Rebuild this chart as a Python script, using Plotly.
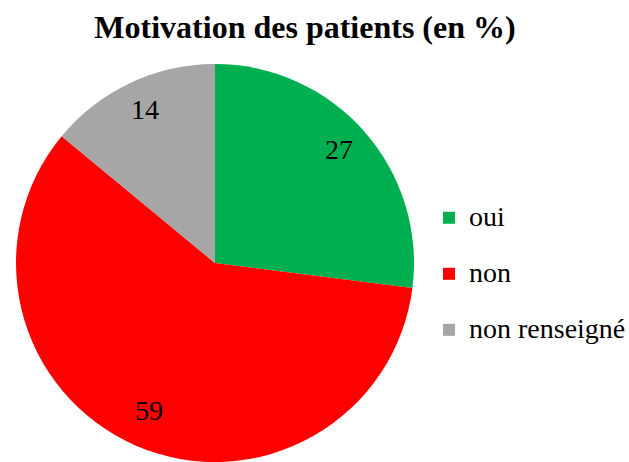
import math
import plotly.graph_objects as go

# Patient motivation shares (percent)
categories = ["oui", "non", "non renseigné"]
values = [27, 59, 14]
colors = ["#00B050", "#FF0000", "#A6A6A6"]

W, H = 629, 462
serif = "Liberation Serif, Times New Roman, Times, serif"

# Pie placement (paper fractions)
dom_x = [16 / W, 414 / W]
dom_y = [0, 398 / H]

# Legend entries: small base font sets the row pitch, span sets the glyph size,
# and a trailing blank line opens up the vertical spacing
legend_labels = [f"<span style='font-size:28px'>{c}</span><br> " for c in categories]

fig = go.Figure(
    go.Pie(
        labels=legend_labels,
        values=values,
        marker=dict(colors=colors, line=dict(width=0)),
        sort=False,
        direction="clockwise",
        rotation=0,
        textinfo="none",
        hoverinfo="skip",
        domain=dict(x=dom_x, y=dom_y),
    )
)

# Value labels placed along each slice bisector, at ~83% of the radius
cx = (dom_x[0] + dom_x[1]) / 2
cy = (dom_y[0] + dom_y[1]) / 2
radius_px = min((dom_x[1] - dom_x[0]) * W, (dom_y[1] - dom_y[0]) * H) / 2
total = sum(values)
cum = 0
for v in values:
    theta = 2 * math.pi * (cum + v / 2) / total
    cum += v
    rr = 0.83 * radius_px
    fig.add_annotation(
        x=cx + rr * math.sin(theta) / W,
        y=cy + rr * math.cos(theta) / H,
        xref="paper",
        yref="paper",
        text=str(v),
        showarrow=False,
        xanchor="center",
        yanchor="middle",
        yshift=4,
        font=dict(family=serif, size=28, color="black"),
    )

fig.update_layout(
    width=W,
    height=H,
    margin=dict(l=0, r=0, t=0, b=0, autoexpand=False),
    paper_bgcolor="white",
    plot_bgcolor="white",
    font=dict(family=serif, color="black"),
    title=dict(
        text="<b>Motivation des patients (en %)</b>",
        x=305 / W,
        xanchor="center",
        y=1 - 27 / H,
        yanchor="middle",
        font=dict(family=serif, size=32, color="black"),
    ),
    legend=dict(
        x=429 / W,
        xanchor="left",
        y=1 - 198 / H,
        yanchor="top",
        valign="top",
        font=dict(family=serif, size=20.4, color="black"),
        bgcolor="rgba(0,0,0,0)",
        traceorder="normal",
    ),
    showlegend=True,
)

fig.write_html("out.html")
